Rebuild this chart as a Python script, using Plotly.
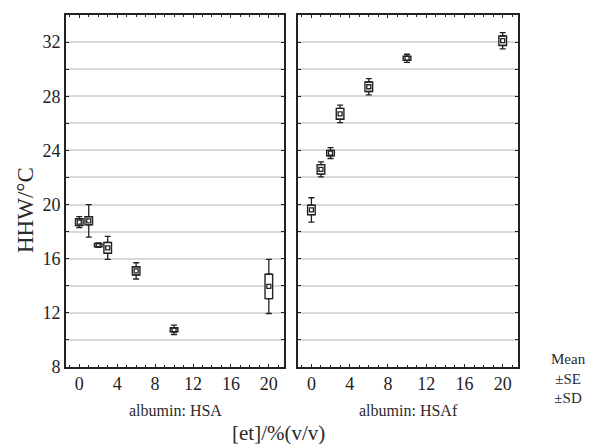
import plotly.graph_objects as go

conc = [0, 1, 2, 3, 6, 10, 20]
hsa_mean = [18.7, 18.8, 17.0, 16.8, 15.1, 10.75, 13.95]
hsa_se = [0.25, 0.3, 0.12, 0.4, 0.3, 0.15, 0.9]
hsa_sd = [0.4, 1.2, 0.15, 0.85, 0.6, 0.35, 2.0]
hsaf_mean = [19.6, 22.6, 23.8, 26.7, 28.7, 30.8, 32.1]
hsaf_se = [0.35, 0.35, 0.2, 0.4, 0.35, 0.15, 0.35]
hsaf_sd = [0.9, 0.55, 0.4, 0.65, 0.6, 0.3, 0.6]
panel_titles = ["albumin: HSA", "albumin: HSAf"]
x_title = "[et]/%(v/v)"
y_title = "HHW/°C"
legend_lines = ["Mean", "±SE", "±SD"]

FONT = "Liberation Serif, Times New Roman, serif"
BLACK = "#222"

fig = go.Figure()

def add_panel(mean, se, sd, xa, ya):
    lo = [m - s for m, s in zip(mean, se)]
    hi = [m + s for m, s in zip(mean, se)]
    ext = [d - s for d, s in zip(sd, se)]
    zeros = [0] * len(mean)
    fig.add_trace(go.Bar(x=conc, y=[2 * s for s in se], base=lo, width=0.8,
                         marker=dict(color="white", line=dict(color=BLACK, width=1.4)),
                         xaxis=xa, yaxis=ya, showlegend=False))
    fig.add_trace(go.Scatter(x=conc, y=hi, mode="markers", marker=dict(size=0.1, color=BLACK),
                             error_y=dict(type="data", array=ext, arrayminus=zeros, color=BLACK,
                                          thickness=1.3, width=3),
                             xaxis=xa, yaxis=ya, showlegend=False))
    fig.add_trace(go.Scatter(x=conc, y=lo, mode="markers", marker=dict(size=0.1, color=BLACK),
                             error_y=dict(type="data", array=zeros, arrayminus=ext, color=BLACK,
                                          thickness=1.3, width=3),
                             xaxis=xa, yaxis=ya, showlegend=False))
    fig.add_trace(go.Scatter(x=conc, y=mean, mode="markers",
                             marker=dict(symbol="square-open", size=4, color=BLACK,
                                         line=dict(width=1.3, color=BLACK)),
                             xaxis=xa, yaxis=ya, showlegend=False))

add_panel(hsa_mean, hsa_se, hsa_sd, "x", "y")
add_panel(hsaf_mean, hsaf_se, hsaf_sd, "x2", "y2")

W, H = 592, 444
ydom = [1 - 367 / H, 1 - 15 / H]
xdom1 = [66 / W, 284 / W]
xdom2 = [298 / W, 518 / W]

xcommon = dict(range=[-1.4, 21.6], tickvals=[0, 4, 8, 12, 16, 20], ticks="inside", ticklen=3,
               tickcolor=BLACK, showline=True, linecolor=BLACK, linewidth=1.6, mirror="ticks",
               showgrid=False, zeroline=False, automargin=False,
               tickfont=dict(family=FONT, size=18, color="#222"),
               minor=dict(dtick=1, tick0=0, ticks="inside", ticklen=2, tickcolor=BLACK, showgrid=False))
ycommon = dict(range=[8, 34], tickvals=[8, 12, 16, 20, 24, 28, 32], ticks="inside", ticklen=3,
               tickcolor=BLACK, showline=True, linecolor=BLACK, linewidth=1.6, mirror="ticks",
               showgrid=True, gridcolor="#d9d9d9", gridwidth=1.5, zeroline=False, automargin=False,
               tickfont=dict(family=FONT, size=18, color="#222"),
               minor=dict(dtick=2, tick0=8, ticks="inside", ticklen=3, tickcolor=BLACK,
                          showgrid=True, gridcolor="#d9d9d9", gridwidth=1.5))

fig.update_layout(
    width=W, height=H, margin=dict(l=0, r=0, t=0, b=0, pad=0, autoexpand=False),
    paper_bgcolor="white", plot_bgcolor="white", barmode="overlay",
    xaxis=dict(domain=xdom1, anchor="y", **xcommon),
    xaxis2=dict(domain=xdom2, anchor="y2", **xcommon),
    yaxis=dict(domain=ydom, anchor="x", **ycommon),
    yaxis2=dict(domain=ydom, anchor="x2", showticklabels=False, **ycommon),
)

ann = [
    dict(text=panel_titles[0], x=175 / W, y=1 - 410 / H, font=dict(size=16)),
    dict(text=panel_titles[1], x=(xdom2[0] + xdom2[1]) / 2, y=1 - 410 / H, font=dict(size=16)),
    dict(text=x_title, x=278 / W, y=1 - 433 / H, font=dict(size=21)),
    dict(text=y_title, x=25 / W, y=1 - 210 / H, textangle=-90, font=dict(size=23)),
    dict(text="<br>".join(legend_lines), x=568 / W, y=1 - 378 / H, font=dict(size=15)),
]
for a in ann:
    a.update(xref="paper", yref="paper", showarrow=False, xanchor="center", yanchor="middle")
    a["font"].update(family=FONT, color="#2a2a2a")
fig.update_layout(annotations=ann)

fig.write_html("out.html")
